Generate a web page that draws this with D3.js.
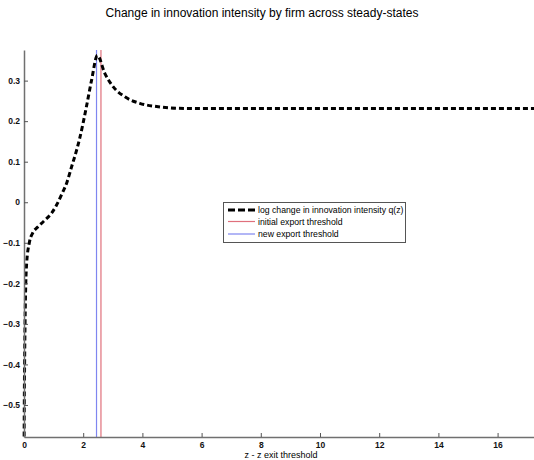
<!DOCTYPE html>
<html>
<head>
<meta charset="utf-8">
<script src="https://cdn.jsdelivr.net/npm/d3@7"></script>
<style>
  body { margin: 0; background: #fff; }
  text { font-family: "Liberation Sans", Arial, sans-serif; }
</style>
</head>
<body>
<script>
// values
const zValues = [0.005, 0.01, 0.02, 0.035, 0.06, 0.09, 0.18, 0.3, 0.45, 0.65, 0.93, 1.1, 1.29, 1.44, 1.61, 1.78, 1.87, 2.11, 2.28, 2.48, 2.73, 3.01, 3.41, 3.91, 4.48, 5.15, 6, 8, 10, 12, 14, 16, 17.3];
const qChange = [-0.578, -0.5, -0.4, -0.3, -0.2, -0.15, -0.1, -0.075, -0.062, -0.048, -0.027, -0.007, 0.022, 0.047, 0.088, 0.129, 0.154, 0.236, 0.3, 0.362, 0.318, 0.285, 0.26, 0.244, 0.236, 0.232, 0.231, 0.231, 0.231, 0.231, 0.231, 0.231, 0.231];
const initialThreshold = 2.6;
const newThreshold = 2.45;
const xTicks = [0, 2, 4, 6, 8, 10, 12, 14, 16];
const yTicks = [-0.5, -0.4, -0.3, -0.2, -0.1, 0, 0.1, 0.2, 0.3];
const legendLabels = ["log change in innovation intensity q(z)", "initial export threshold", "new export threshold"];

const width = 534, height = 460;
const plotLeft = 24, plotRight = 534, plotTop = 50, plotBottom = 437;

const svg = d3.select("body").append("svg")
  .attr("width", width)
  .attr("height", height);

const x = d3.scaleLinear().domain([0, 17.23]).range([plotLeft, plotRight]);
const y = d3.scaleLinear().domain([-0.579, 0.3755]).range([plotBottom, plotTop]);

svg.append("text")
  .attr("x", 262)
  .attr("y", 17)
  .attr("text-anchor", "middle")
  .style("font-size", "12px")
  .text("Change in innovation intensity by firm across steady-states");

// threshold lines
svg.append("line")
  .attr("x1", x(newThreshold)).attr("x2", x(newThreshold))
  .attr("y1", plotTop).attr("y2", plotBottom)
  .attr("stroke", "#7f86f0").attr("stroke-width", 1.2);
svg.append("line")
  .attr("x1", x(initialThreshold)).attr("x2", x(initialThreshold))
  .attr("y1", plotTop).attr("y2", plotBottom)
  .attr("stroke", "#e0707c").attr("stroke-width", 1.2);

const line = d3.line()
  .x((d, i) => x(zValues[i]))
  .y(d => y(d))
  .curve(d3.curveMonotoneX);

svg.append("path")
  .datum(qChange)
  .attr("d", line)
  .attr("fill", "none")
  .attr("stroke", "#000")
  .attr("stroke-width", 3)
  .attr("stroke-dasharray", "5,3");

const fmt = d => d === 0 ? "0" : d3.format(".1f")(d);

const xAxis = svg.append("g")
  .attr("transform", `translate(0,${plotBottom})`)
  .call(d3.axisBottom(x).tickValues(xTicks).tickFormat(d3.format("d"))
    .tickSizeInner(-4).tickSizeOuter(0).tickPadding(5));

const yAxis = svg.append("g")
  .attr("transform", `translate(${plotLeft},0)`)
  .call(d3.axisLeft(y).tickValues(yTicks).tickFormat(fmt)
    .tickSizeInner(-4).tickSizeOuter(0).tickPadding(4));

[xAxis, yAxis].forEach(g => {
  g.select(".domain").attr("stroke", "#707070").attr("stroke-width", 1.5);
  g.selectAll(".tick line").attr("stroke", "#555");
  g.selectAll(".tick text")
    .style("font-size", "8.5px")
    .style("font-weight", "bold")
    .style("font-family", "Liberation Sans, Arial, sans-serif")
    .attr("fill", "#111");
});

svg.append("text")
  .attr("x", 281)
  .attr("y", 458)
  .attr("text-anchor", "middle")
  .style("font-size", "9px")
  .text("z - z exit threshold");

// legend
const legend = svg.append("g");
legend.append("rect")
  .attr("x", 223.5).attr("y", 202.5)
  .attr("width", 182).attr("height", 40)
  .attr("fill", "#fff")
  .attr("stroke", "#555");

const legendStyles = [
  { stroke: "#000", width: 3, dash: "7,3" },
  { stroke: "#e0707c", width: 1.2, dash: null },
  { stroke: "#7f86f0", width: 1.2, dash: null }
];
const rowY = [210, 221.5, 234];

legendLabels.forEach((label, i) => {
  const s = legendStyles[i];
  legend.append("line")
    .attr("x1", 228).attr("x2", 255)
    .attr("y1", rowY[i]).attr("y2", rowY[i])
    .attr("stroke", s.stroke)
    .attr("stroke-width", s.width)
    .attr("stroke-dasharray", s.dash);
  legend.append("text")
    .attr("x", 258)
    .attr("y", rowY[i] + 3)
    .style("font-size", "8.7px")
    .text(label);
});
</script>
</body>
</html>
